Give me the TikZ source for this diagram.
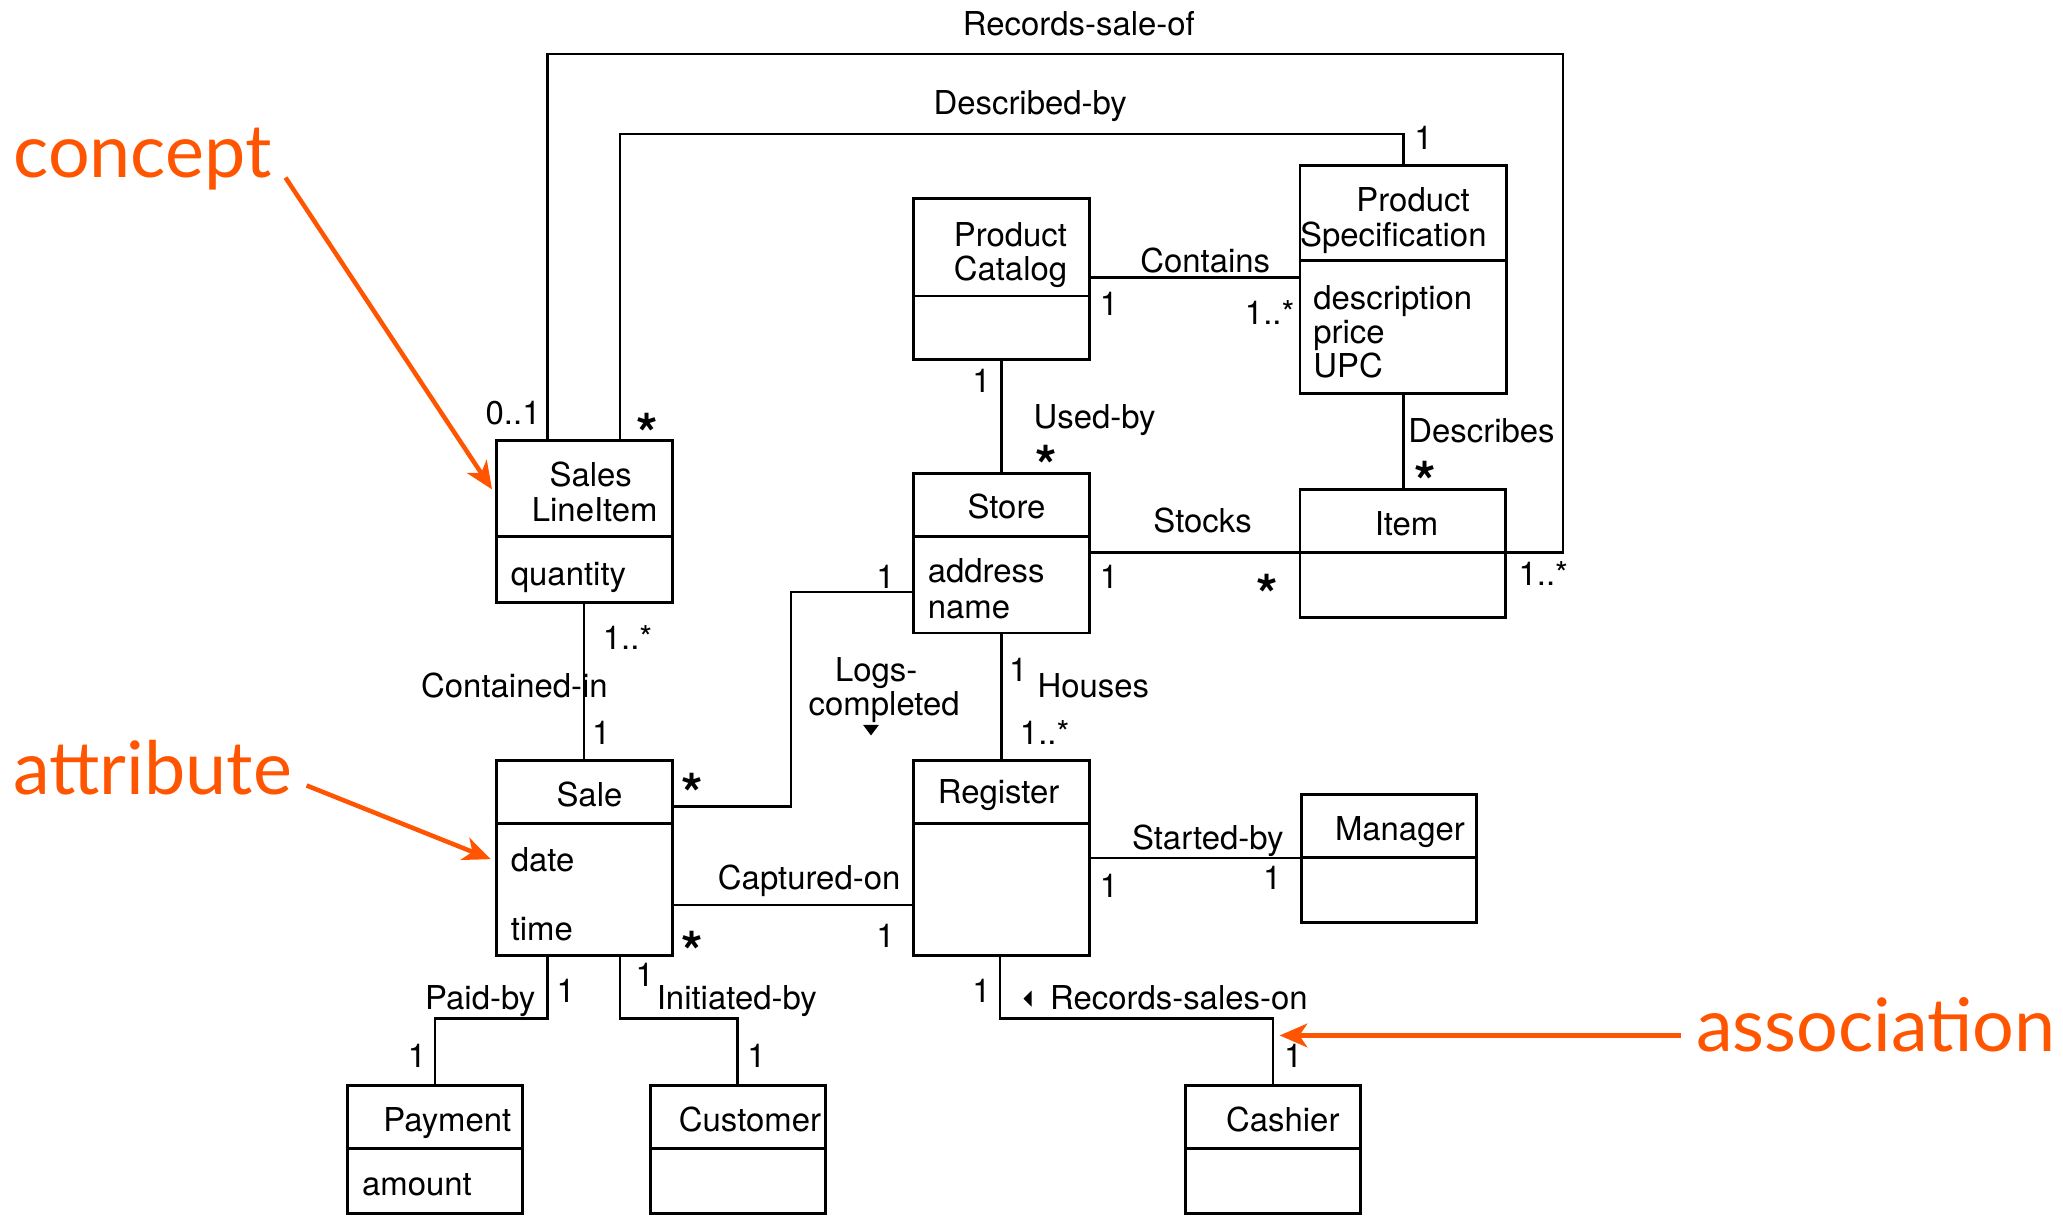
\documentclass[tikz,border=0pt]{standalone}
\usepackage{fontspec}
\setmainfont{TeX Gyre Heros}
\newfontfamily\annfont{Lato}
\usetikzlibrary{arrows.meta,calc}
\definecolor{annorange}{RGB}{255,85,0}
\begin{document}
\begin{tikzpicture}[x=1pt,y=-1pt,
  box/.style={draw, line width=2.2pt, rectangle, inner sep=0pt, anchor=north west},
  divider/.style={line width=2.2pt},
  assoc/.style={line width=1.8pt},
  lbl/.style={font=\fontsize{25}{25}\selectfont, inner sep=0pt, text height=18pt, text depth=0pt},
  lblw/.style={lbl, anchor=west},
  mult/.style={font=\bfseries\fontsize{42}{42}\selectfont, inner sep=0pt, yshift=-9pt},
  ann/.style={font=\annfont\fontsize{56}{56}\selectfont, text=annorange, inner sep=0pt, anchor=base west},
  annarrow/.style={draw=annorange, line width=3.4pt, -{Stealth[length=21pt,width=18pt,inset=6pt]}},
]
\useasboundingbox (0,0) rectangle (1568,924);

% ---------- classes ----------
\node[box, minimum width=134pt, minimum height=123pt] (sli)   at (376,334) {};
\node[box, minimum width=134pt, minimum height=122pt] (pc)    at (693,150) {};
\node[box, minimum width=157pt, minimum height=173pt] (ps)    at (987,125) {};
\node[box, minimum width=134pt, minimum height=121pt] (store) at (693,359) {};
\node[box, minimum width=156pt, minimum height=97pt]  (item)  at (987,371) {};
\node[box, minimum width=134pt, minimum height=148pt] (sale)  at (376,577) {};
\node[box, minimum width=134pt, minimum height=148pt] (reg)   at (693,577) {};
\node[box, minimum width=133pt, minimum height=97pt]  (mgr)   at (988,603) {};
\node[box, minimum width=133pt, minimum height=97pt]  (pay)   at (263,824) {};
\node[box, minimum width=133pt, minimum height=97pt]  (cust)  at (493,824) {};
\node[box, minimum width=133pt, minimum height=97pt]  (cash)  at (900,824) {};

% compartment dividers
\draw[divider] (sli.west |- 0,408)   -- (sli.east |- 0,408);
\draw[divider] (pc.west |- 0,225)    -- (pc.east |- 0,225);
\draw[divider] (ps.west |- 0,198)    -- (ps.east |- 0,198);
\draw[divider] (store.west |- 0,408) -- (store.east |- 0,408);
\draw[divider] (item.west |- 0,420)  -- (item.east |- 0,420);
\draw[divider] (sale.west |- 0,626)  -- (sale.east |- 0,626);
\draw[divider] (reg.west |- 0,626)   -- (reg.east |- 0,626);
\draw[divider] (mgr.west |- 0,652)   -- (mgr.east |- 0,652);
\draw[divider] (pay.west |- 0,873)   -- (pay.east |- 0,873);
\draw[divider] (cust.west |- 0,873)  -- (cust.east |- 0,873);
\draw[divider] (cash.west |- 0,873)  -- (cash.east |- 0,873);

% class names and attributes
\node[lbl] (nSales) at (449,361) {Sales};
\node[lbl] (nLine)  at (452,387) {LineItem};
\node[lblw] (aQty)  at (388,436) {quantity};
\node[lbl] (nProd1) at (768,178) {Product};
\node[lbl] (nCat)   at (768,204) {Catalog};
\node[lbl] (nProd2) at (1074,152) {Product};
\node[lbl] (nSpec)  at (1059,178) {Specification};
\node[lblw] (aDesc) at (998,226) {description};
\node[lblw] (aPrice) at (998,252) {price};
\node[lblw] (aUPC)  at (998,278) {UPC};
\node[lbl] (nStore) at (765,385) {Store};
\node[lblw] (aAddr) at (705,434) {address};
\node[lblw] (aName) at (705,461) {name};
\node[lbl] (nItem)  at (1069,398) {Item};
\node[lbl] (nSale)  at (448,604) {Sale};
\node[lblw] (aDate) at (388,653) {date};
\node[lblw] (aTime) at (388,706) {time};
\node[lbl] (nReg)   at (759,602) {Register};
\node[lbl] (nMgr)   at (1064,630) {Manager};
\node[lbl] (nPay)   at (340,851) {Payment};
\node[lblw] (aAmt)  at (275,900) {amount};
\node[lbl] (nCust)  at (570,851) {Customer};
\node[lbl] (nCash)  at (975,851) {Cashier};

% ---------- associations ----------
\coordinate (rsL) at (416,41);
\coordinate (rsR) at (1188,41);
\draw[assoc] (rsL |- sli.north) -- (rsL) -- (rsR) |- (item.east |- 0,420);

\coordinate (dbL) at (471,102);
\draw[assoc] (dbL |- sli.north) -- (dbL) -| (ps.north);

\draw[assoc] (pc.east |- 0,211) -- (ps.west |- 0,211);
\draw[assoc] (pc.south) -- (pc.south |- store.north);
\draw[assoc] (ps.south) -- (ps.south |- item.north);
\draw[assoc] (store.east |- 0,420) -- (item.west |- 0,420);
\draw[assoc] (sli.south) -- (sli.south |- sale.north);

\coordinate (lc) at (601,450);
\draw[assoc] (sale.east |- 0,613) -| (lc) -- (store.west |- lc);

\draw[assoc] (store.south) -- (store.south |- reg.north);
\draw[assoc] (sale.east |- 0,688) -- (reg.west |- 0,688);
\draw[assoc] (reg.east |- 0,652) -- (mgr.west |- 0,652);

\coordinate (pb) at (416,774);
\draw[assoc] (pb |- sale.south) -- (pb) -| (pay.north);
\coordinate (ib) at (471,774);
\draw[assoc] (ib |- sale.south) -- (ib) -| (cust.north);
\coordinate (rso) at (760,774);
\draw[assoc] (rso |- reg.south) -- (rso) -| (cash.north);

% association names
\node[lbl] (lRSO)  at (820,18)  {Records-sale-of};
\node[lbl] (lDB)   at (783,78)  {Described-by};
\node[lbl] (lCont) at (916,198) {Contains};
\node[lbl] (lUsed) at (832,317) {Used-by};
\node[lbl] (lDesc) at (1126,327) {Describes};
\node[lbl] (lStk)  at (914,396) {Stocks};
\node[lbl] (lCin)  at (391,521) {Contained-in};
\node[lbl] (lLogs) at (666,509) {Logs-};
\node[lbl] (lComp) at (672,535) {completed};
\node[lbl] (lHou)  at (831,521) {Houses};
\node[lbl] (lCap)  at (615,667) {Captured-on};
\node[lbl] (lStart) at (918,637) {Started-by};
\node[lbl] (lPaid) at (365,758) {Paid-by};
\node[lbl] (lInit) at (560,758) {Initiated-by};
\node[lbl] (lRecs) at (896,758) {Records-sales-on};

% reading-direction markers
\fill (656,551) -- (668,551) -- (662,559) -- cycle;
\fill (784,753) -- (784,765) -- (778,759) -- cycle;

% multiplicities
\node[lbl] (m1)  at (1082,105) {1};
\node[lbl] (m2)  at (390,314)  {0..1};
\node[mult] (m3) at (492,320)  {*};
\node[lbl] (m4)  at (843,231)  {1};
\node[lbl] (m5)  at (965,238)  {1..*};
\node[lbl] (m6)  at (746,289)  {1};
\node[mult] (m7) at (795,345)  {*};
\node[mult] (m8) at (1083,357) {*};
\node[lbl] (m9)  at (843,438)  {1};
\node[mult] (m10) at (963,443) {*};
\node[lbl] (m11) at (1173,436) {1..*};
\node[lbl] (m12) at (477,485)  {1..*};
\node[lbl] (m13) at (673,438)  {1};
\node[lbl] (m14) at (457,557)  {1};
\node[lbl] (m15) at (774,509)  {1};
\node[lbl] (m16) at (794,557)  {1..*};
\node[mult] (m17) at (526,594) {*};
\node[mult] (m18) at (526,714) {*};
\node[lbl] (m19) at (673,711)  {1};
\node[lbl] (m20) at (843,673)  {1};
\node[lbl] (m21) at (967,667)  {1};
\node[lbl] (m22) at (430,753)  {1};
\node[lbl] (m23) at (317,802)  {1};
\node[lbl] (m24) at (490,741)  {1};
\node[lbl] (m25) at (575,802)  {1};
\node[lbl] (m26) at (746,753)  {1};
\node[lbl] (m27) at (983,802)  {1};

% ---------- annotations ----------
\node[ann] (kConcept) at (10,135)  {concept};
\node[ann] (kAttr)    at (10,604)  {attribute};
\node[ann] (kAssoc)   at (1289,799) {association};
\coordinate (cFrom) at (217,135);
\coordinate (aFrom) at (233,597);
\coordinate (sFrom) at (1278,787);
\draw[annarrow] (cFrom) -- ($(sli.west |- 0,372)+(-2,0)$);
\draw[annarrow] (aFrom) -- ($(sale.west |- 0,653)+(-3,0)$);
\draw[annarrow] (sFrom) -- ($(cash.north |- 0,787)+(5,0)$);
\end{tikzpicture}
\end{document}
